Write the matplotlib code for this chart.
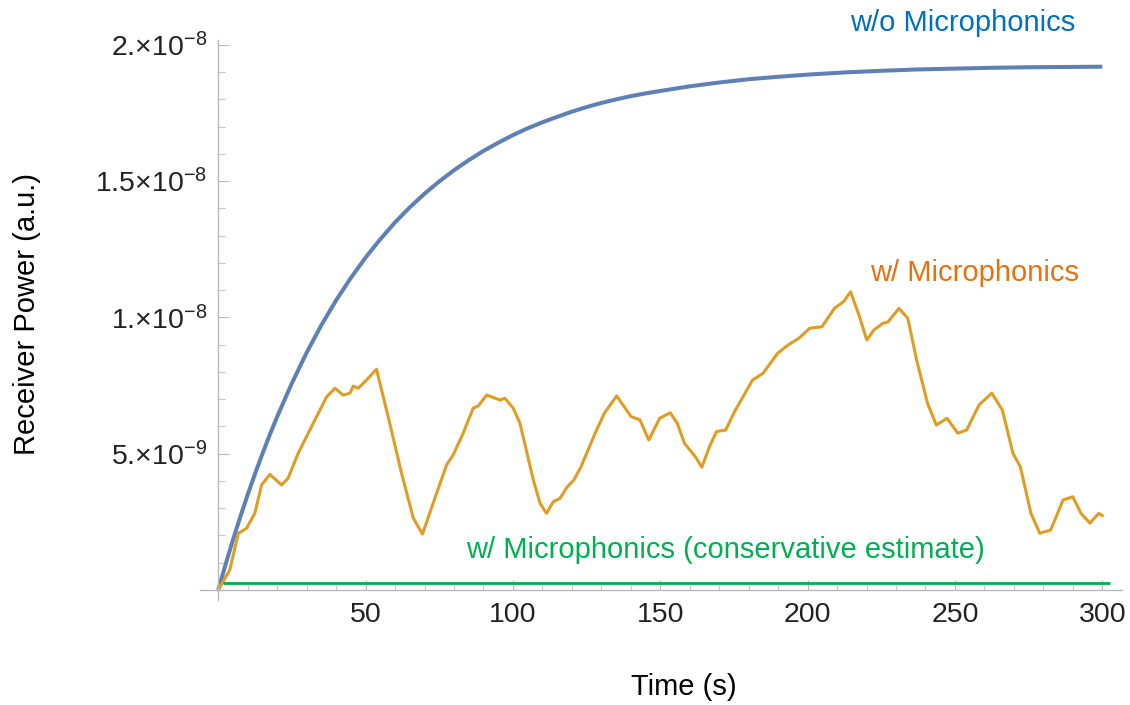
import matplotlib
matplotlib.use("Agg")
import matplotlib.pyplot as plt
from matplotlib.ticker import MultipleLocator, FixedLocator, FixedFormatter

plt.rcParams["font.family"] = ["Liberation Sans", "DejaVu Sans"]
plt.rcParams["mathtext.fontset"] = "custom"
plt.rcParams["mathtext.rm"] = "Liberation Sans"
plt.rcParams["mathtext.it"] = "Liberation Sans:italic"

# --- data (power in units of 1e-9 a.u.) ---
t_blue = [0, 2.5, 5, 7.5, 10, 12.5, 15, 17.5, 20, 25, 30, 35, 40, 45, 50, 55, 60,
          65, 70, 75, 80, 85, 90, 95, 100, 105, 110, 115, 120, 125, 130, 135, 140,
          145, 150, 160, 170, 180, 190, 200, 212.5, 225, 237.5, 250, 262.5, 275,
          287.5, 300]
p_blue = [0, 0.94, 1.84, 2.69, 3.50, 4.27, 5.00, 5.70, 6.36, 7.59, 8.71, 9.72, 10.63,
          11.45, 12.20, 12.87, 13.49, 14.04, 14.54, 14.99, 15.40, 15.77, 16.11, 16.41,
          16.69, 16.94, 17.16, 17.36, 17.55, 17.72, 17.87, 18.00, 18.12, 18.22, 18.31,
          18.48, 18.62, 18.74, 18.83, 18.91, 18.99, 19.05, 19.10, 19.13, 19.16, 19.18,
          19.19, 19.20]

t_orange = [0, 3.9, 6.8, 9.6, 12.4, 14.7, 17.5, 21.5, 23.7, 27.1, 32.2, 36.8, 39.6,
            42.4, 44.7, 45.8, 47.5, 50.3, 53.7, 58.2, 62.2, 66.2, 69.3, 74.1, 77.5,
            79.7, 83.1, 86.5, 88.2, 91.1, 95.6, 97.3, 100.1, 102.4, 106.9, 109.2,
            111.4, 113.7, 116.0, 118.2, 120.7, 123.1, 127.9, 131.0, 135.2, 140.1,
            143.1, 146.1, 149.8, 153.4, 155.8, 158.2, 161.9, 164.1, 166.7, 169.1,
            172.2, 175.2, 181.3, 184.9, 189.8, 193.4, 197.0, 200.7, 204.9, 209.1,
            212.2, 214.6, 217.6, 220.1, 222.5, 225.5, 227.3, 231.0, 234.0, 237.0,
            240.7, 243.7, 247.3, 251.0, 254.0, 258.2, 262.5, 266.1, 269.7, 272.2,
            275.8, 278.8, 282.5, 286.7, 290.0, 292.8, 295.8, 298.8, 300.0]
p_orange = [0, 0.73, 2.08, 2.26, 2.81, 3.85, 4.24, 3.85, 4.10, 5.01, 6.11, 7.09, 7.40,
            7.15, 7.22, 7.48, 7.40, 7.70, 8.10, 6.11, 4.28, 2.63, 2.05, 3.55, 4.59,
            4.95, 5.75, 6.67, 6.75, 7.15, 6.97, 7.03, 6.67, 6.11, 4.04, 3.18,
            2.81, 3.24, 3.36, 3.75, 4.04, 4.52, 5.75, 6.48, 7.12, 6.36,
            6.24, 5.50, 6.30, 6.50, 6.11, 5.38, 4.89, 4.50, 5.26, 5.81,
            5.87, 6.54, 7.70, 7.95, 8.68, 8.99, 9.23, 9.60, 9.66, 10.33,
            10.58, 10.94, 10.03, 9.17, 9.54, 9.78, 9.84, 10.33, 9.97, 8.44,
            6.85, 6.05, 6.30, 5.75, 5.87, 6.79, 7.22, 6.60, 5.01, 4.52,
            2.81, 2.08, 2.20, 3.30, 3.42, 2.81, 2.45, 2.81, 2.73]

t_green = [1.5, 302.5]
p_green = [0.25, 0.25]

x_ticks = [50, 100, 150, 200, 250, 300]
y_ticks = [5, 10, 15, 20]
y_tick_labels = ["5.×10$^{-9}$", "1.×10$^{-8}$", "1.5×10$^{-8}$", "2.×10$^{-8}$"]

# --- figure ---
fig = plt.figure(figsize=(11.3, 7.05), dpi=100)
ax = fig.add_axes([200 / 1130, 105 / 705, 922 / 1130, 560 / 705])

ax.plot(t_blue, p_blue, color="#5E81B5", lw=2.9, solid_capstyle="butt")
ax.plot(t_orange, p_orange, color="#E19C24", lw=2.2)
ax.plot(t_green, p_green, color="#00B050", lw=2.0, solid_capstyle="butt")

ax.set_xlim(-6.2, 306.7)
ax.set_ylim(-0.37, 20.18)

for side in ("top", "right"):
    ax.spines[side].set_visible(False)
ax.spines["left"].set_position(("data", 0))
ax.spines["bottom"].set_position(("data", 0))
for side in ("left", "bottom"):
    ax.spines[side].set_color("#b8b8b8")
    ax.spines[side].set_linewidth(1.0)

ax.xaxis.set_major_locator(FixedLocator(x_ticks))
ax.xaxis.set_minor_locator(MultipleLocator(10))
ax.yaxis.set_major_locator(FixedLocator(y_ticks))
ax.yaxis.set_major_formatter(FixedFormatter(y_tick_labels))
ax.yaxis.set_minor_locator(MultipleLocator(1))

ax.tick_params(axis="x", which="major", direction="in", length=7.2, width=0.8,
               color="#b8b8b8", labelsize=20.5, labelcolor="#222222", pad=8.5)
ax.tick_params(axis="x", which="minor", direction="in", length=3.6, width=0.8,
               color="#c8c8c8")
ax.tick_params(axis="y", which="major", direction="in", length=8, width=0.8,
               color="#b8b8b8", labelsize=20.5, labelcolor="#222222", pad=8)
ax.tick_params(axis="y", which="minor", direction="in", length=5, width=0.8,
               color="#c8c8c8")

fig.text(684 / 1130, 1 - 695 / 705, "Time (s)", fontsize=21, ha="center",
         va="baseline")
fig.text(27 / 1130, 1 - 314 / 705, "Receiver Power (a.u.)", fontsize=21,
         rotation=90, ha="center", va="center")

fig.text(963 / 1130, 1 - 31 / 705, "w/o Microphonics", fontsize=21,
         color="#0070C0", ha="center", va="baseline")
fig.text(975 / 1130, 1 - 281 / 705, "w/ Microphonics", fontsize=21,
         color="#E8700F", ha="center", va="baseline")
fig.text(725 / 1130, 1 - 558 / 705, "w/ Microphonics (conservative estimate)",
         fontsize=21, color="#00B050", ha="center", va="baseline")

fig.savefig("out.png", dpi=100)
